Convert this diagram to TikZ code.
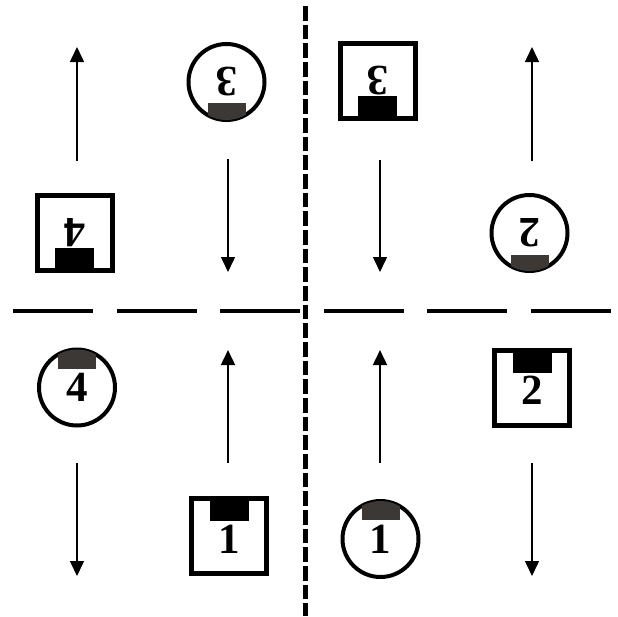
\documentclass[tikz,border=0pt]{standalone}
\usepackage{fontspec}
\setmainfont{Liberation Serif}
\usetikzlibrary{arrows.meta}
\definecolor{barc}{HTML}{3B3836}
\newcommand{\digitfont}{\bfseries\fontsize{43}{43}\selectfont}
\begin{document}
\begin{tikzpicture}[x=1pt,y=-1pt,
    sqcar/.style={draw,line width=5pt,minimum size=75pt,inner sep=0pt,font=\digitfont},
    rdcar/.style={draw,circle,line width=4pt,minimum size=76pt,inner sep=0pt,font=\digitfont},
    lane/.style={-{Triangle[length=15pt,width=14pt]},line width=1.5pt},
    divider/.style={line width=4.5pt,dash pattern=on 80pt off 23.6pt}
]
\useasboundingbox (0,0) rectangle (618,616);

% lane dividers
\coordinate (top) at (305,6);
\coordinate (bottom) at (305,616);
\coordinate (west) at (13,311);
\coordinate (east) at (611,311);
\draw[divider] (west) -- (east);
\draw[line width=5pt,dash pattern=on 14.5pt off 4.17pt] (top) -- (bottom);

% driving directions
\foreach \i/\x/\a/\b in {1/77/161/47, 2/228/159/272, 3/380/160/272, 4/532/161/47,
                         5/77/463/576, 6/228/463/350, 7/380/463/350, 8/532/463/576} {
    \coordinate (s\i) at (\x,\a);
    \coordinate (e\i) at (\x,\b);
    \draw[lane] (s\i) -- (e\i);
}

% square cars, black bar on the front
\node[sqcar,rotate=180] (sq4) at (74.5,233) {4};
\node[sqcar,rotate=180] (sq3) at (377.5,81) {3};
\node[sqcar,text height=36pt,text depth=0pt] (sq1) at (229,535.5) {1};
\node[sqcar,text height=33pt,text depth=0pt] (sq2) at (532,387.5) {2};
\fill ([xshift=-19.5pt,yshift=-37.5pt]sq4.center) rectangle ([xshift=19.5pt,yshift=-15pt]sq4.center);
\fill ([xshift=-19.5pt,yshift=-37.5pt]sq3.center) rectangle ([xshift=19.5pt,yshift=-15pt]sq3.center);
\fill ([xshift=-19.5pt,yshift=37.5pt]sq1.center) rectangle ([xshift=19.5pt,yshift=15pt]sq1.center);
\fill ([xshift=-19.5pt,yshift=37.5pt]sq2.center) rectangle ([xshift=19.5pt,yshift=15pt]sq2.center);

% round cars, grey bar clipped by the rim
\node[rdcar,rotate=180] (rd3) at (226.5,82) {3};
\node[rdcar,rotate=180] (rd2) at (529.5,233) {2};
\node[rdcar] (rd4) at (77,387.5) {4};
\node[rdcar] (rd1) at (380.5,539) {1};
\begin{scope}
    \clip (rd3.center) circle[radius=38];
    \fill[barc] ([xshift=-19pt,yshift=-21pt]rd3.center) rectangle ([xshift=19pt,yshift=-40pt]rd3.center);
\end{scope}
\begin{scope}
    \clip (rd2.center) circle[radius=38];
    \fill[barc] ([xshift=-19pt,yshift=-22pt]rd2.center) rectangle ([xshift=19pt,yshift=-40pt]rd2.center);
\end{scope}
\begin{scope}
    \clip (rd4.center) circle[radius=38];
    \fill[barc] ([xshift=-19pt,yshift=19pt]rd4.center) rectangle ([xshift=19pt,yshift=40pt]rd4.center);
\end{scope}
\begin{scope}
    \clip (rd1.center) circle[radius=38];
    \fill[barc] ([xshift=-19pt,yshift=19pt]rd1.center) rectangle ([xshift=19pt,yshift=40pt]rd1.center);
\end{scope}
\end{tikzpicture}
\end{document}
